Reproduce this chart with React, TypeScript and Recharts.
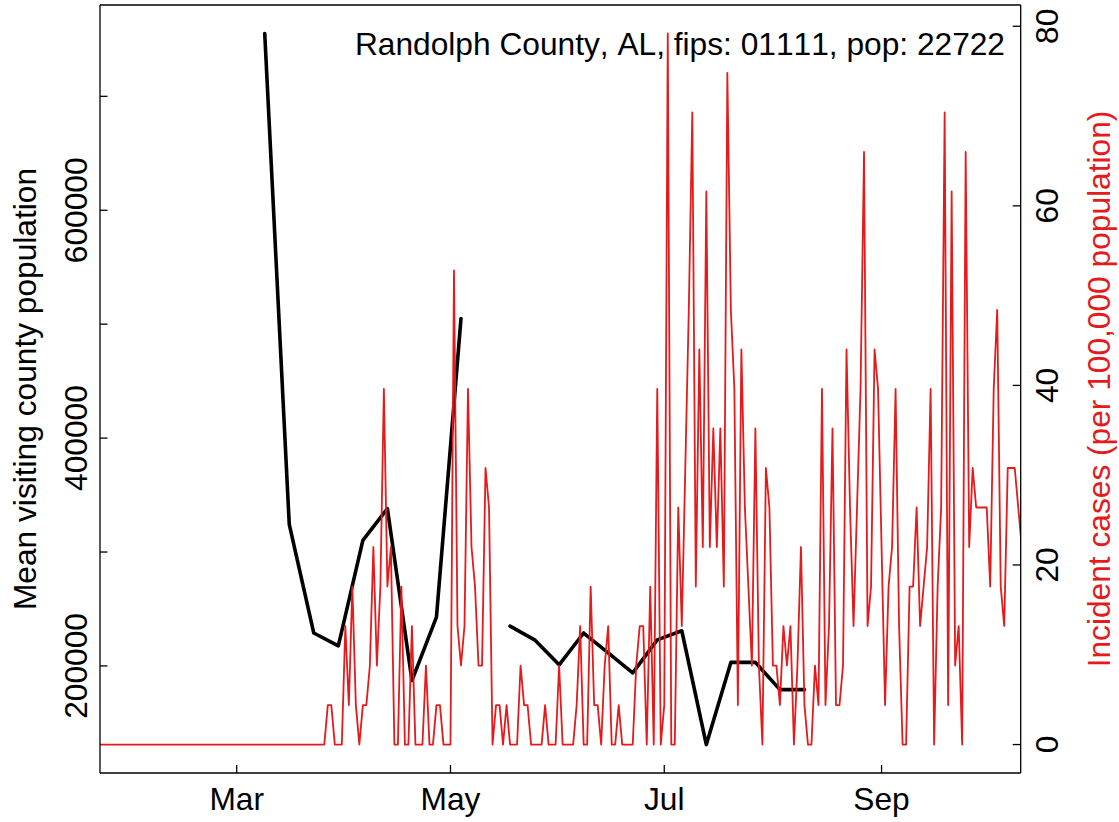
import React from 'react';
import { LineChart, Line, XAxis, YAxis, ReferenceLine, Customized } from 'recharts';

// Daily incident cases per 100,000 population, starting 2020-01-22
const caseStart = '2020-01-22';
const caseValues = [
  // Jan 22-31
  0, 0, 0, 0, 0, 0, 0, 0, 0, 0,
  // Feb
  0, 0, 0, 0, 0, 0, 0, 0, 0, 0, 0, 0, 0, 0, 0, 0, 0, 0, 0, 0, 0, 0, 0, 0, 0, 0, 0, 0, 0,
  // Mar
  0, 0, 0, 0, 0, 0, 0, 0, 0, 0, 0, 0, 0, 0, 0, 0, 0, 0, 0, 0, 0, 0, 0, 0, 0, 0,
  4.4, 4.4, 0, 0, 0,
  // Apr
  13.2, 4.4, 17.6, 4.4, 0, 4.4, 4.4, 8.8, 22, 8.8,
  17.6, 39.6, 17.6, 22, 0, 0, 17.6, 0, 0, 13.2,
  0, 0, 0, 8.8, 0, 0, 4.4, 4.4, 0, 0,
  // May
  0, 52.8, 13.2, 8.8, 13.2, 39.6, 22, 17.6, 8.8, 8.8,
  30.8, 26.4, 0, 4.4, 4.4, 0, 4.4, 0, 0, 0,
  8.8, 4.4, 4.4, 0, 0, 0, 0, 4.4, 0, 0, 0,
  // Jun
  8.8, 0, 0, 0, 0, 4.4, 13.2, 0, 0, 17.6,
  4.4, 4.4, 0, 8.8, 13.2, 0, 0, 4.4, 0, 0,
  0, 0, 8.8, 13.2, 13.2, 0, 17.6, 0, 39.6, 0,
  // Jul
  4.4, 79.2, 0, 0, 26.4, 13.2, 30.8, 48.4, 70.4, 17.6,
  44, 22, 61.6, 22, 35.2, 22, 35.2, 17.6, 74.8, 48.4,
  39.6, 4.4, 44, 26.4, 17.6, 8.8, 35.2, 8.8, 0, 30.8, 26.4,
  // Aug
  8.8, 8.8, 4.4, 13.2, 8.8, 13.2, 0, 8.8, 22, 4.4,
  0, 0, 8.8, 4.4, 39.6, 4.4, 13.2, 35.2, 4.4, 4.4,
  8.8, 44, 26.4, 13.2, 26.4, 39.6, 66, 13.2, 17.6, 44, 39.6,
  // Sep
  22, 4.4, 17.6, 22, 39.6, 13.2, 0, 0, 17.6, 17.6,
  26.4, 13.2, 17.6, 22, 39.6, 0, 17.6, 26.4, 70.4, 4.4,
  61.6, 8.8, 13.2, 0, 66, 22, 30.8, 26.4, 26.4, 26.4,
  // Oct 1-11
  26.4, 17.6, 39.6, 48.4, 17.6, 13.2, 30.8, 30.8, 30.8, 26.4, 22,
];

// Weekly mean visiting county population
const visitDates = [
  '2020-03-09', '2020-03-16', '2020-03-23', '2020-03-30', '2020-04-06', '2020-04-13',
  '2020-04-20', '2020-04-27', '2020-05-04', '2020-05-11', '2020-05-18', '2020-05-25',
  '2020-06-01', '2020-06-08', '2020-06-15', '2020-06-22', '2020-06-29', '2020-07-06',
  '2020-07-13', '2020-07-20', '2020-07-27', '2020-08-03', '2020-08-10',
];
const visitValues = [
  755200, 324200, 228900, 217700, 310300, 338100,
  187200, 242800, 505000, null, 234900, 222900,
  201000, 228900, 211400, 193900, 222900, 230900,
  131000, 203100, 203100, 179200, 179200,
];

const monthTicks = ['2020-03-01', '2020-05-01', '2020-07-01', '2020-09-01'];
const monthLabels = ['Mar', 'May', 'Jul', 'Sep'];
const visitTicks = [200000, 300000, 400000, 500000, 600000, 700000];
const visitTickLabels = ['200000', '', '400000', '', '600000', ''];
const caseTicks = [0, 20, 40, 60, 80];

const chartTitle = 'Randolph County, AL, fips: 01111, pop: 22722';
const leftTitle = 'Mean visiting county population';
const rightTitle = 'Incident cases (per 100,000 population)';

const FONT = '"Liberation Sans", Arial, Helvetica, sans-serif';
const FS = 31.7;
const RED = '#E41A1C';
const W = 1119;
const H = 822;
const LEFT = 100;
const RIGHT = 1020.7;
const TOP = 5;
const BOTTOM = 773;
const noKern = { fontKerning: 'none' as const };

const dayOf = (s: string) => {
  const [y, m, d] = s.split('-').map(Number);
  return (Date.UTC(y, m - 1, d) - Date.UTC(2020, 0, 1)) / 86400000;
};

const startDay = dayOf(caseStart);
const caseData = caseValues.map((v, i) => ({ day: startDay + i, cases: v }));
const visitData = visitDates.map((d, i) => ({ day: dayOf(d), visit: visitValues[i] }));
const monthDays = monthTicks.map(dayOf);

// R-style 4% padding on the data range
const pad = (vals: number[]) => {
  const lo = Math.min(...vals);
  const hi = Math.max(...vals);
  const p = (hi - lo) * 0.04;
  return [lo - p, hi + p];
};
const visitDomain = pad(visitValues.filter((v): v is number => v !== null));
const caseDomain = pad(caseValues);
const dayDomain = [21, 283.7];

const XTick = ({ x, payload }: any) => (
  <g>
    <line x1={x} x2={x} y1={BOTTOM} y2={BOTTOM - 8} stroke="#000" strokeWidth={1.3} />
    <text x={x} y={810} textAnchor="middle" fontSize={FS} fontFamily={FONT} fill="#000" style={noKern}>
      {monthLabels[monthDays.indexOf(payload.value)]}
    </text>
  </g>
);

const LeftTick = ({ y, payload }: any) => (
  <g>
    <line x1={LEFT} x2={LEFT + 7.5} y1={y} y2={y} stroke="#000" strokeWidth={1.3} />
    <text
      x={87}
      y={y}
      transform={`rotate(-90 87 ${y})`}
      textAnchor="middle"
      fontSize={FS}
      fontFamily={FONT}
      fill="#000"
      style={noKern}
    >
      {visitTickLabels[visitTicks.indexOf(payload.value)]}
    </text>
  </g>
);

const RightTick = ({ y, payload }: any) => (
  <g>
    <line x1={RIGHT - 8} x2={RIGHT} y1={y} y2={y} stroke="#000" strokeWidth={1.3} />
    <text
      x={1058}
      y={y}
      transform={`rotate(-90 1058 ${y})`}
      textAnchor="middle"
      fontSize={FS}
      fontFamily={FONT}
      fill="#000"
      style={noKern}
    >
      {payload.value}
    </text>
  </g>
);

const Titles = () => {
  const mid = (TOP + BOTTOM) / 2;
  return (
    <g fontFamily={FONT} fontSize={FS} style={noKern}>
      <text x={1005} y={55} textAnchor="end" fill="#000" style={noKern}>{chartTitle}</text>
      <text x={36} y={mid} transform={`rotate(-90 36 ${mid})`} textAnchor="middle" fill="#000" style={noKern}>
        {leftTitle}
      </text>
      <text x={1110} y={mid} transform={`rotate(-90 1110 ${mid})`} textAnchor="middle" fill={RED} style={noKern}>
        {rightTitle}
      </text>
    </g>
  );
};

export default function App() {
  return (
    <div style={{ position: 'absolute', left: 0, top: 0, background: '#fff' }}>
      <LineChart width={W} height={H} margin={{ top: TOP, right: 0, bottom: 0, left: 0 }}>
        <XAxis
          xAxisId="day"
          dataKey="day"
          type="number"
          domain={dayDomain}
          ticks={monthDays}
          interval={0}
          allowDataOverflow
          height={H - BOTTOM}
          axisLine={{ stroke: '#000', strokeWidth: 1.3 }}
          tickLine={false}
          tick={<XTick />}
        />
        <YAxis
          yAxisId="visit"
          orientation="left"
          type="number"
          domain={visitDomain}
          ticks={visitTicks}
          interval={0}
          width={LEFT}
          axisLine={{ stroke: '#000', strokeWidth: 1.3 }}
          tickLine={false}
          tick={<LeftTick />}
        />
        <YAxis
          yAxisId="cases"
          orientation="right"
          type="number"
          domain={caseDomain}
          ticks={caseTicks}
          interval={0}
          width={W - RIGHT}
          axisLine={{ stroke: '#000', strokeWidth: 1.3 }}
          tickLine={false}
          tick={<RightTick />}
        />
        <ReferenceLine xAxisId="day" yAxisId="visit" y={visitDomain[1]} stroke="#000" strokeWidth={1.3} />
        <Line
          xAxisId="day"
          yAxisId="visit"
          data={visitData}
          dataKey="visit"
          type="linear"
          stroke="#000"
          strokeWidth={3.6}
          strokeLinejoin="round"
          strokeLinecap="round"
          dot={false}
          connectNulls={false}
          isAnimationActive={false}
        />
        <Line
          xAxisId="day"
          yAxisId="cases"
          data={caseData}
          dataKey="cases"
          type="linear"
          stroke={RED}
          strokeWidth={1.8}
          strokeLinejoin="round"
          dot={false}
          isAnimationActive={false}
        />
        <Customized component={Titles} />
      </LineChart>
    </div>
  );
}
